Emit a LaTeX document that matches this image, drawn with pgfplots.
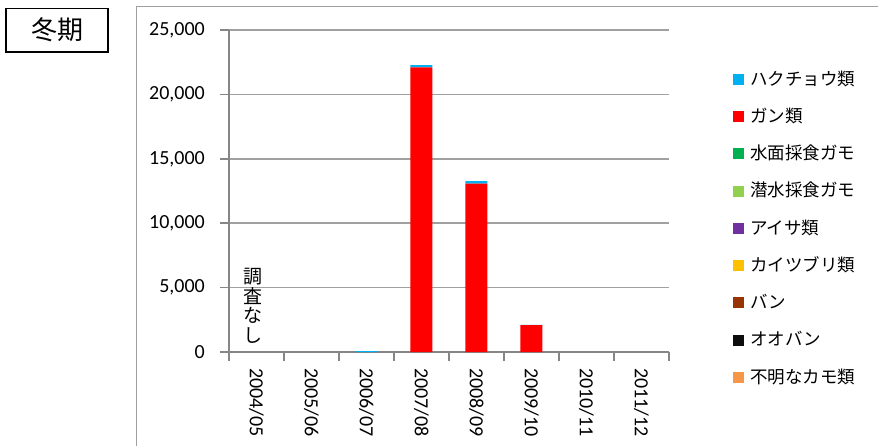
\documentclass[border=0pt]{standalone}
\usepackage{fontspec}
\setmainfont{Carlito}
\newfontfamily\jp{Noto Sans CJK JP}
\usepackage{pgfplots}
\pgfplotsset{compat=1.18}
\definecolor{cSwan}{HTML}{00B0F0}
\definecolor{cGoose}{HTML}{FF0000}
\definecolor{cDabble}{HTML}{00B050}
\definecolor{cDive}{HTML}{92D050}
\definecolor{cMerg}{HTML}{7030A0}
\definecolor{cGrebe}{HTML}{FFC000}
\definecolor{cMoor}{HTML}{993300}
\definecolor{cCoot}{HTML}{0D0D0D}
\definecolor{cUnk}{HTML}{F79646}
\definecolor{axisgray}{HTML}{868686}
\definecolor{gridgray}{HTML}{A0A0A0}
\pgfplotsset{sq/.style={fill=#1, draw=none,
  legend image code/.code={\fill[##1] (0pt,-5pt) rectangle (11pt,6pt);}}}
\begin{document}
\begin{tikzpicture}
\draw[color=gridgray, line width=1pt] (136pt,-450pt) -- (136pt,-6.5pt) -- (880pt,-6.5pt);
\draw[line width=1.5pt] (6pt,-8.5pt) rectangle (108pt,-52pt);
\node[font=\jp\fontsize{26}{30}\selectfont] at (57pt,-30pt) {冬期};
\begin{axis}[
  at={(229pt,-352pt)}, anchor=south west,
  scale only axis, width=440pt, height=322pt,
  xmin=-0.5, xmax=7.5, ymin=0, ymax=25000,
  ybar stacked, bar width=22pt,
  axis lines*=left,
  axis line style={color=axisgray, line width=1.5pt, -},
  ymajorgrids, grid style={color=gridgray, line width=1.5pt},
  ytick={0,5000,...,25000},
  scaled y ticks=false,
  yticklabel style={font=\fontsize{20}{24}\selectfont, inner sep=0pt, xshift=-15pt, /pgf/number format/1000 sep={,}, /pgf/number format/assume math mode=true},
  xtick={-0.5,0.5,...,7.5}, xticklabels={},
  extra x ticks={0,1,2,3,4,5,6,7},
  extra x tick labels={2004/05,2005/06,2006/07,2007/08,2008/09,2009/10,2010/11,2011/12},
  extra x tick style={major tick length=0pt, grid=none,
     xticklabel style={rotate=-90, anchor=west, font=\fontsize{20}{24}\selectfont, inner sep=0pt, xshift=16pt}},
  tick align=outside, major tick length=9pt,
  every tick/.style={color=axisgray, line width=1.5pt},
  reverse legend,
  legend cell align=left,
  legend style={at={(1.1455,0.9037)}, anchor=north west, draw=none, fill=none,
    font=\jp\fontsize{17.5}{21}\selectfont, inner sep=0pt,
    nodes={inner sep=0pt, text height=24pt, text depth=13.25pt},
    row sep=0pt, column sep=6pt},
]
\addplot[sq=cUnk]   coordinates {(0,0) (1,0) (2,0) (3,0) (4,0) (5,0) (6,0) (7,0)};
\addlegendentry{不明なカモ類}
\addplot[sq=cCoot]  coordinates {(0,0) (1,0) (2,0) (3,0) (4,0) (5,0) (6,0) (7,0)};
\addlegendentry{オオバン}
\addplot[sq=cMoor]  coordinates {(0,0) (1,0) (2,0) (3,0) (4,0) (5,0) (6,0) (7,0)};
\addlegendentry{バン}
\addplot[sq=cGrebe] coordinates {(0,0) (1,0) (2,0) (3,0) (4,0) (5,0) (6,0) (7,0)};
\addlegendentry{カイツブリ類}
\addplot[sq=cMerg]  coordinates {(0,0) (1,0) (2,0) (3,0) (4,0) (5,0) (6,0) (7,0)};
\addlegendentry{アイサ類}
\addplot[sq=cDive]  coordinates {(0,0) (1,0) (2,0) (3,0) (4,0) (5,0) (6,0) (7,0)};
\addlegendentry{潜水採食ガモ}
\addplot[sq=cDabble] coordinates {(0,0) (1,0) (2,0) (3,0) (4,0) (5,0) (6,0) (7,0)};
\addlegendentry{水面採食ガモ}
\addplot[sq=cGoose] coordinates {(0,0) (1,0) (2,0) (3,22100) (4,13080) (5,2080) (6,0) (7,0)};
\addlegendentry{ガン類}
\addplot[sq=cSwan]  coordinates {(0,0) (1,0) (2,60) (3,170) (4,180) (5,20) (6,0) (7,0)};
\addlegendentry{ハクチョウ類}
\node[font=\jp\fontsize{19}{19.5}\selectfont, align=center, inner sep=0pt] at (axis cs:-0.06,3570) {調\\査\\な\\し};
\end{axis}
\pgfresetboundingbox
\useasboundingbox (0,0) rectangle (878pt,-445pt);
\end{tikzpicture}
\end{document}
